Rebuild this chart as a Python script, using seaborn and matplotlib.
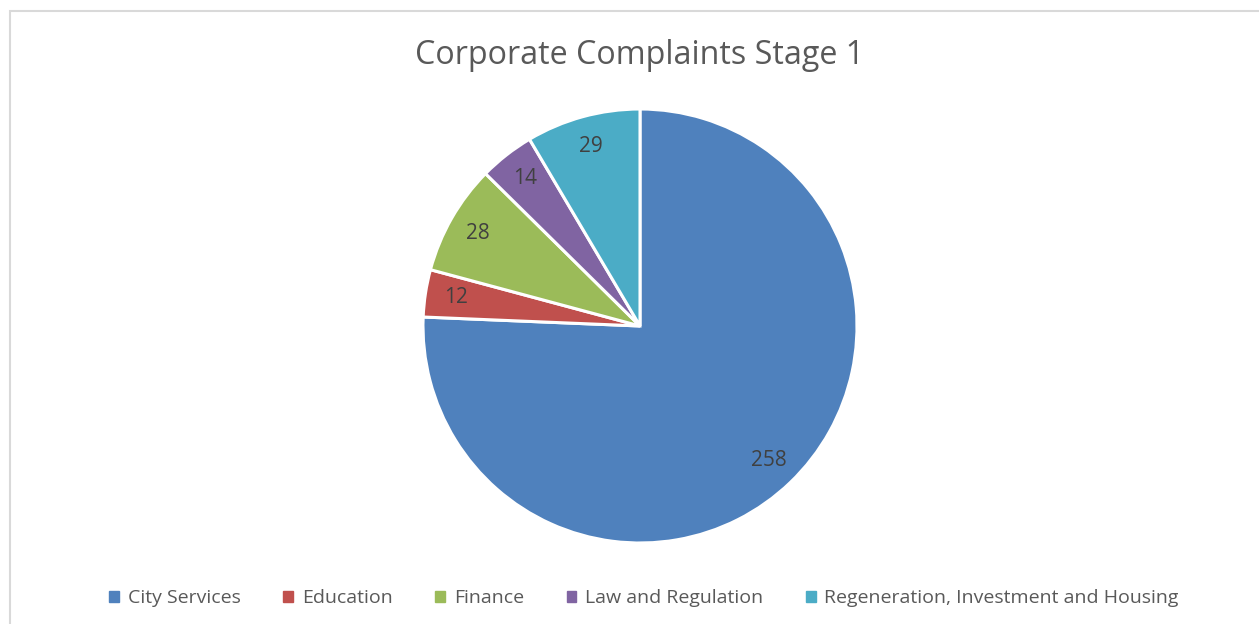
import matplotlib
matplotlib.use("Agg")
import matplotlib.pyplot as plt
import seaborn as sns
from matplotlib.patches import Rectangle

# === Data ===
categories = ["City Services", "Education", "Finance", "Law and Regulation",
              "Regeneration, Investment and Housing"]
complaints = [258, 12, 28, 14, 29]
colors = ["#4F81BD", "#C0504D", "#9BBB59", "#8064A2", "#4BACC6"]
title = "Corporate Complaints Stage 1"

sns.set_theme(style="white")
plt.rcParams["font.family"] = ["Open Sans", "DejaVu Sans"]

W, H = 1259, 624
fig = plt.figure(figsize=(W / 100, H / 100), dpi=100)

# pie axes: centre (640, 326) px, radius ~217 px
r = 217
ax = fig.add_axes([(640 - r) / W, (H - 326 - r) / H, 2 * r / W, 2 * r / H])

total = sum(complaints)
wedges, _, autotexts = ax.pie(
    complaints,
    colors=colors,
    startangle=90,
    counterclock=False,
    autopct=lambda p: f"{round(p * total / 100):d}",
    pctdistance=0.86,
    wedgeprops=dict(edgecolor="white", linewidth=2.2),
    textprops=dict(color="#404040", fontsize=15),
)
ax.set_xlim(-1, 1)
ax.set_ylim(-1, 1)
ax.set_aspect("equal")
ax.axis("off")

fig.text(0.508, 1 - 55 / H, title, ha="center", va="center",
         fontsize=23.2, color="#595959")

handles = [Rectangle((0, 0), 1, 1, color=c) for c in colors]
leg = fig.legend(handles, categories, loc="center", ncol=5,
                 bbox_to_anchor=(644 / W, 1 - 598 / H), frameon=False,
                 fontsize=14, handlelength=0.5, handleheight=0.5,
                 handletextpad=0.45, columnspacing=2.2)
for t in leg.get_texts():
    t.set_color("#595959")

# chart area frame (cut off at right and bottom in the reference)
fig.add_artist(Rectangle((9.5 / W, -0.1), 1.2, 1 - 10.5 / H + 0.1,
                         transform=fig.transFigure, fill=False,
                         edgecolor="#D9D9D9", linewidth=1.5))

fig.savefig("out.png", dpi=100, facecolor="white")
